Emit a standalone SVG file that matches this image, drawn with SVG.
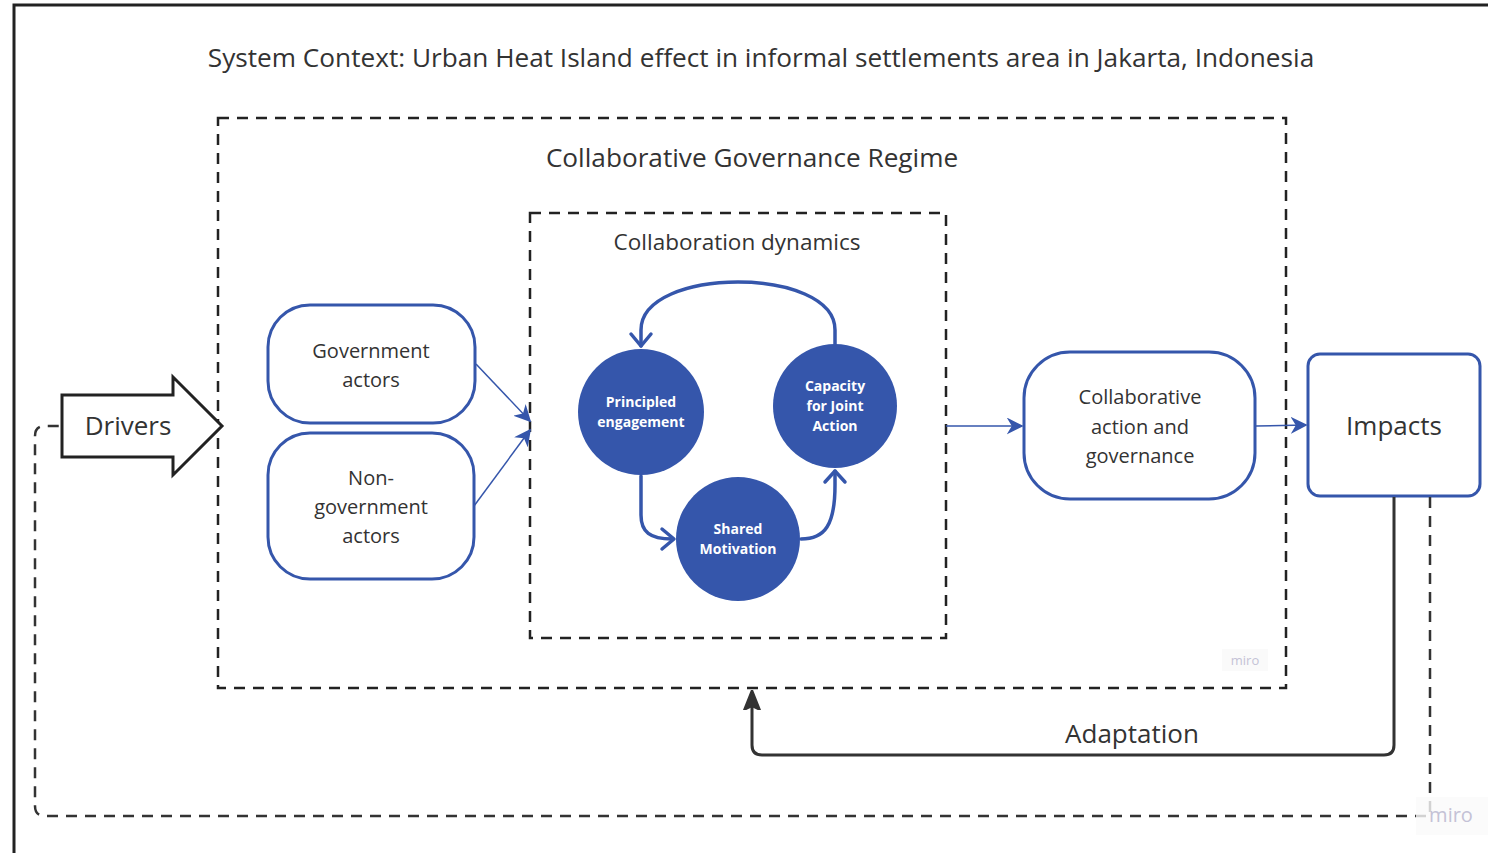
<svg xmlns="http://www.w3.org/2000/svg" width="1488" height="853" viewBox="0 0 1488 853">
<style>
text{font-family:"Open Sans","Noto Sans","Liberation Sans",sans-serif;fill:#333;}
.t24{font-size:26.2px;text-anchor:middle;}
.t22{font-size:22.5px;text-anchor:middle;}
.t20{font-size:20px;text-anchor:middle;}
.t26{font-size:26px;text-anchor:middle;}
.ct{font-size:14px;font-weight:bold;fill:#fff;text-anchor:middle;}
.dash{fill:none;stroke:#222;stroke-width:2.5;stroke-dasharray:11 8;}
.box{fill:#fff;stroke:#3556ab;stroke-width:3;}
.circ{fill:#3556ab;}
.loop{fill:none;stroke:#3556ab;stroke-width:3.5;stroke-linecap:round;stroke-linejoin:round;}
.blue{fill:none;stroke:#3556ab;stroke-width:1.5;}
.wm{font-family:"Open Sans","Noto Sans",sans-serif;fill:#c4c2d6;text-anchor:middle;}
</style>
<defs>
<marker id="bh2" viewBox="0 0 10 10" refX="9" refY="5" markerWidth="17" markerHeight="17" markerUnits="userSpaceOnUse" orient="auto">
<path d="M0,0 L10,5 L0,10 L3,5 Z" fill="#3556ab"/>
</marker>
<marker id="kh" viewBox="0 0 10 10" refX="9" refY="5" markerWidth="20" markerHeight="20" markerUnits="userSpaceOnUse" orient="auto">
<path d="M0,1 L10,5 L0,9 L2,5 Z" fill="#333" stroke="#333" stroke-width="1" stroke-linejoin="round"/>
</marker>
</defs>
<rect width="1488" height="853" fill="#fff"/>
<rect x="14" y="5" width="1520" height="900" fill="none" stroke="#222" stroke-width="3"/>
<text class="t24" x="761" y="67">System Context: Urban Heat Island effect in informal settlements area in Jakarta, Indonesia</text>

<g id="regime">
<rect class="dash" x="218" y="118" width="1068" height="570"/>
<text class="t24" x="752" y="167">Collaborative Governance Regime</text>
<rect x="1222" y="649" width="46" height="22" fill="#fafafa"/>
<text class="wm" x="1245" y="665" font-size="13">miro</text>
</g>

<g id="dynamics">
<rect class="dash" x="530" y="213" width="416" height="425"/>
<text class="t22" x="737" y="250">Collaboration dynamics</text>
</g>

<g id="principled">
<circle class="circ" cx="641" cy="412" r="63"/>
<text class="ct" x="641" y="407">Principled</text>
<text class="ct" x="641" y="427">engagement</text>
</g>
<g id="capacity">
<circle class="circ" cx="835" cy="406" r="62"/>
<text class="ct" x="835" y="391">Capacity</text>
<text class="ct" x="835" y="411">for Joint</text>
<text class="ct" x="835" y="431">Action</text>
</g>
<g id="shared">
<circle class="circ" cx="738" cy="539" r="62"/>
<text class="ct" x="738" y="534">Shared</text>
<text class="ct" x="738" y="554">Motivation</text>
</g>

<g id="gov">
<rect class="box" x="268" y="305" width="207" height="118" rx="42"/>
<text class="t20" x="371" y="358">Government</text>
<text class="t20" x="371" y="387">actors</text>
</g>
<g id="nongov">
<rect class="box" x="268" y="433" width="206" height="146" rx="42"/>
<text class="t20" x="371" y="485">Non-</text>
<text class="t20" x="371" y="514">government</text>
<text class="t20" x="371" y="543">actors</text>
</g>

<g id="drivers">
<path d="M62,395 H173 V377 L222,426 L173,475 V457 H62 Z" fill="#fff" stroke="#222" stroke-width="3" stroke-linejoin="miter"/>
<text class="t26" x="128" y="435">Drivers</text>
</g>

<g id="action">
<rect class="box" x="1024" y="352" width="231" height="147" rx="46"/>
<text class="t20" x="1140" y="404">Collaborative</text>
<text class="t20" x="1140" y="434">action and</text>
<text class="t20" x="1140" y="463">governance</text>
</g>

<g id="impacts">
<rect class="box" x="1308" y="354" width="172" height="142" rx="12"/>
<text class="t26" x="1394" y="435">Impacts</text>
</g>

<g id="connectors">
<line class="blue" x1="476" y1="364" x2="530" y2="421" marker-end="url(#bh2)"/>
<line class="blue" x1="474" y1="506" x2="530" y2="430" marker-end="url(#bh2)"/>
<line class="blue" x1="946" y1="426" x2="1022" y2="426" marker-end="url(#bh2)"/>
<line class="blue" x1="1256" y1="426" x2="1306" y2="425" marker-end="url(#bh2)"/>
<path class="loop" d="M835,344 V330 C835,266 641,266 641,330 V346"/>
<path class="loop" d="M631,334 L641,346 L651,334"/>
<path class="loop" d="M641,476 V515 C641,532 650,539 672,539"/>
<path class="loop" d="M662,529 L674,539 L662,549"/>
<path class="loop" d="M801,539 C825,539 835,525 835,485 V471"/>
<path class="loop" d="M825,482 L835,471 L845,482"/>
<path d="M1394,497 V745 Q1394,755 1384,755 H762 Q752,755 752,745 V692" fill="none" stroke="#333" stroke-width="3" marker-end="url(#kh)"/>
<path d="M1430,497 V816 H45 Q35,816 35,806 V436 Q35,426 45,426 H62" fill="none" stroke="#333" stroke-width="2.5" stroke-dasharray="11 8"/>
</g>
<text class="t26" x="1132" y="743">Adaptation</text>
<rect x="1416" y="797" width="72" height="38" fill="#fafafa" opacity="0.8"/>
<text class="wm" x="1451" y="822" font-size="20">miro</text>
</svg>
